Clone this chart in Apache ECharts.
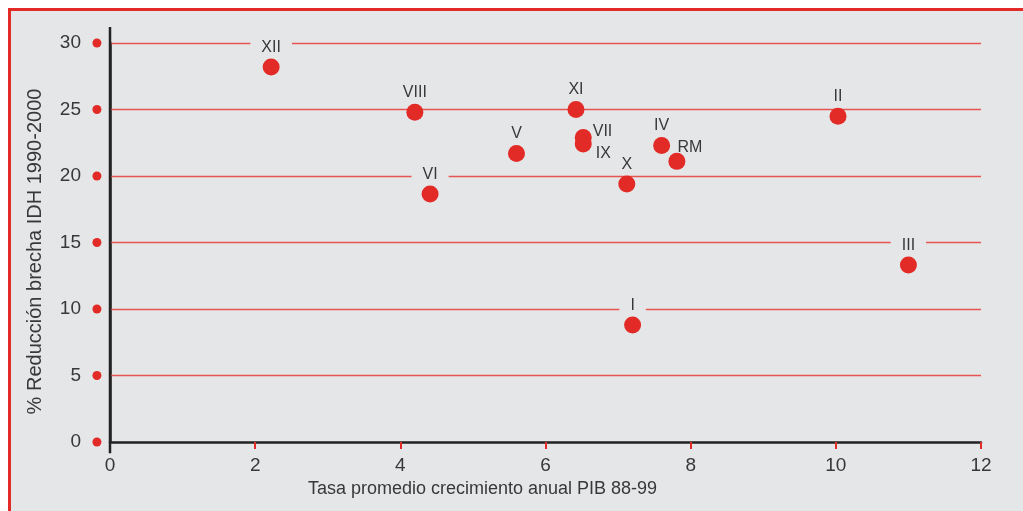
<!DOCTYPE html>
<html><head><meta charset="utf-8">
<script src="https://cdn.jsdelivr.net/npm/echarts@6/dist/echarts.min.js"></script>
<style>html,body{margin:0;padding:0;background:#fff;overflow:hidden}#c{width:1023px;height:511px}</style>
</head><body><div id="c"></div>
<script>
var regions = ['XII','VIII','VI','V','XI','VII','IX','X','IV','RM','II','III','I'];
var growth  = [2.22, 4.2, 4.41, 5.6, 6.42, 6.52, 6.52, 7.12, 7.6, 7.81, 10.03, 11.0, 7.2];
var gapRed  = [28.2, 24.8, 18.65, 21.7, 25.0, 22.9, 22.4, 19.4, 22.3, 21.1, 24.5, 13.3, 8.8];
var yTicks  = [0, 5, 10, 15, 20, 25, 30];
var xTicks  = [0, 2, 4, 6, 8, 10, 12];

var BG = '#e5e6e8', RED = '#e22b26', GRID = '#e65552', TXT = '#383838', FONT = 'Liberation Sans';
var labelPos = {
  'VII': {position: 'right', offset: [0, -6], bg: false},
  'IX':  {position: 'right', offset: [3, 10], bg: false},
  'RM':  {position: 'top', offset: [13, 4], bg: false}
};
var pts = regions.map(function(r, i){
  var lp = labelPos[r] || {position: 'top', offset: [0, 0], bg: true};
  return {value: [growth[i], gapRed[i]], name: r,
    label: {show: true, formatter: r, position: lp.position, offset: lp.offset,
      distance: lp.bg ? 2 : 1,
      color: TXT, fontSize: 16, fontFamily: FONT,
      backgroundColor: lp.bg ? BG : 'transparent', padding: lp.bg ? [2, 11, 1, 11] : 0}};
});
var chart = echarts.init(document.getElementById('c'), null, {renderer: 'canvas'});
chart.setOption({
  backgroundColor: '#ffffff',
  animation: false,
  graphic: [
    {type: 'rect', z: -10, silent: true, shape: {x: 9, y: 9, width: 1030, height: 520},
      style: {fill: BG}},
    {type: 'polyline', z: -9, silent: true, shape: {points: [[9.5, 530], [9.5, 9.5], [1040, 9.5]]},
      style: {stroke: RED, lineWidth: 3, fill: null}}
  ],
  grid: {left: 110, right: 42, top: 43, bottom: 69},
  xAxis: {type: 'value', min: xTicks[0], max: xTicks[xTicks.length-1], interval: 2,
    name: 'Tasa promedio crecimiento anual PIB 88-99', nameLocation: 'middle', nameGap: 38,
    nameTextStyle: {color: TXT, fontSize: 18, fontFamily: FONT, padding: [0, 126, 0, 0]},
    axisLine: {lineStyle: {color: '#222', width: 2.5}},
    axisTick: {show: true, length: 7, lineStyle: {color: RED, width: 2}},
    axisLabel: {color: TXT, fontSize: 19, fontFamily: FONT, margin: 14},
    splitLine: {show: false}},
  yAxis: {type: 'value', min: yTicks[0], max: yTicks[yTicks.length-1], interval: 5,
    name: '% Reducción brecha IDH 1990-2000', nameLocation: 'middle', nameGap: 65,
    nameTextStyle: {color: TXT, fontSize: 20, fontFamily: FONT, padding: [0, 18, 0, 0]},
    axisLine: {show: true, onZero: false, lineStyle: {color: '#222', width: 2.5}},
    axisTick: {show: false},
    axisLabel: {color: TXT, fontSize: 19, fontFamily: FONT, margin: 29},
    splitLine: {show: false}},
  series: [
    {type: 'line', data: [[0, -0.85], [0, 31.2]], clip: false, symbol: 'none', z: 2,
      lineStyle: {color: '#222', width: 2.5}, silent: true},
    {type: 'scatter', data: yTicks.map(function(t){ return [-0.18, t]; }), clip: false,
      symbolSize: 9, itemStyle: {color: RED, opacity: 1}, z: 3, silent: true,
      markLine: {z: 1, silent: true, symbol: 'none', label: {show: false}, animation: false,
        lineStyle: {color: GRID, width: 1.4, type: 'solid', opacity: 1},
        data: yTicks.filter(function(t){ return t > 0; }).map(function(t){ return {yAxis: t}; })}},
    {type: 'scatter', data: pts, symbolSize: 17, clip: false, z: 4,
      itemStyle: {color: RED, opacity: 1}}
  ]
});
</script></body></html>
